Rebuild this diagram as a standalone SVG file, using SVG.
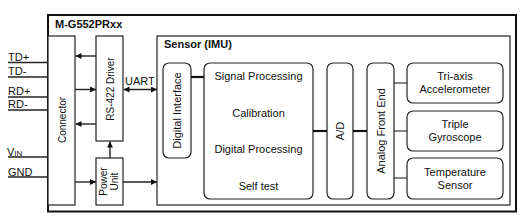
<svg xmlns="http://www.w3.org/2000/svg" width="522" height="223" viewBox="0 0 522 223">
<style>
text{font-family:"Liberation Sans",Arial,sans-serif;fill:#111;}
.t{font-size:11px;}
.s{font-size:10px;}
.b{font-size:11px;font-weight:bold;}
.box{fill:#fff;stroke:#222;stroke-width:1.2;}
.rbox{fill:#fff;stroke:#222;stroke-width:1.2;}
.ln{stroke:#222;stroke-width:1.4;fill:none;}
.thick{stroke:#111;stroke-width:2.2;fill:none;}
.thin{stroke:#222;stroke-width:1.1;fill:none;}
</style>
<defs>
<marker id="ah" viewBox="0 0 6 6" refX="6" refY="3" markerWidth="6" markerHeight="6" markerUnits="userSpaceOnUse" orient="auto-start-reverse">
<path d="M0,0 L6,3 L0,6 z" fill="#111"/>
</marker>
</defs>
<rect width="522" height="223" fill="#fff"/>
<g id="outer">
<rect x="48" y="15" width="468" height="196.5" fill="none" stroke="#111" stroke-width="2"/>
<text class="b" x="55" y="28">M-G552PRxx</text>
</g>
<g id="connector">
<rect class="box" x="48" y="36" width="27" height="169"/>
<text class="s" transform="translate(62,120) rotate(-90)" x="0" y="3.5" text-anchor="middle">Connector</text>
</g>
<g id="rs422">
<rect class="box" x="96" y="36" width="27" height="105"/>
<text class="s" transform="translate(109.5,89) rotate(-90)" x="0" y="4" text-anchor="middle">RS-422 Driver</text>
</g>
<g id="power">
<rect class="box" x="96" y="158" width="27" height="47"/>
<text class="s" transform="translate(109.5,181.5) rotate(-90)" text-anchor="middle"><tspan x="0" y="-2.5">Power</tspan><tspan x="0" y="8.5">Unit</tspan></text>
</g>
<g id="sensor">
<rect class="box" x="157" y="36" width="353" height="169"/>
<text class="b" x="164" y="48">Sensor (IMU)</text>
</g>
<g id="digital-interface">
<rect class="rbox" x="163" y="63" width="28" height="95" rx="6"/>
<text class="t" transform="translate(177,110.5) rotate(-90)" x="0" y="4" text-anchor="middle">Digital Interface</text>
</g>
<g id="signal-processing">
<rect class="rbox" x="204" y="63" width="109" height="136" rx="6"/>
<text class="t" x="258.5" y="80" text-anchor="middle">Signal Processing</text>
<text class="t" x="258.5" y="117" text-anchor="middle">Calibration</text>
<text class="t" x="258.5" y="153" text-anchor="middle">Digital Processing</text>
<text class="t" x="258.5" y="190" text-anchor="middle">Self test</text>
</g>
<g id="ad">
<rect class="rbox" x="327" y="63" width="26" height="136" rx="6"/>
<text class="t" transform="translate(340,131) rotate(-90)" x="0" y="4" text-anchor="middle">A/D</text>
</g>
<g id="afe">
<rect class="rbox" x="367" y="63" width="27" height="136" rx="6"/>
<text class="t" transform="translate(380.5,131) rotate(-90)" x="0" y="4" text-anchor="middle">Analog Front End</text>
</g>
<g id="accel">
<rect class="rbox" x="407" y="63" width="96" height="40" rx="6"/>
<text class="t" x="455" y="80" text-anchor="middle">Tri-axis</text>
<text class="t" x="455" y="93" text-anchor="middle">Accelerometer</text>
</g>
<g id="gyro">
<rect class="rbox" x="407" y="111" width="96" height="40" rx="6"/>
<text class="t" x="455" y="128" text-anchor="middle">Triple</text>
<text class="t" x="455" y="141" text-anchor="middle">Gyroscope</text>
</g>
<g id="temp">
<rect class="rbox" x="407" y="158" width="96" height="41" rx="6"/>
<text class="t" x="455" y="176" text-anchor="middle">Temperature</text>
<text class="t" x="455" y="189" text-anchor="middle">Sensor</text>
</g>
<g id="pins">
<text class="t" x="8" y="61">TD+</text>
<text class="t" x="8" y="75">TD-</text>
<text class="t" x="8" y="95">RD+</text>
<text class="t" x="8" y="108">RD-</text>
<text class="t" x="7" y="156">V<tspan font-size="8px">IN</tspan></text>
<text class="t" x="8" y="176">GND</text>
</g>
<g id="connectors">
<line class="ln" x1="8" y1="62.5" x2="48" y2="62.5"/>
<line class="ln" x1="8" y1="77" x2="48" y2="77"/>
<line class="ln" x1="8" y1="97" x2="48" y2="97"/>
<line class="ln" x1="8" y1="110" x2="48" y2="110"/>
<line class="ln" x1="8" y1="157" x2="48" y2="157"/>
<line class="ln" x1="8" y1="177" x2="48" y2="177"/>
<line class="ln" x1="96" y1="56" x2="75.5" y2="56" marker-end="url(#ah)"/>
<line class="ln" x1="75" y1="89.5" x2="96" y2="89.5" marker-end="url(#ah)"/>
<line class="ln" x1="96" y1="124" x2="75.5" y2="124" marker-end="url(#ah)"/>
<line class="ln" x1="123.5" y1="89.5" x2="157" y2="89.5" marker-start="url(#ah)" marker-end="url(#ah)"/>
<text class="t" x="125" y="85">UART</text>
<line class="ln" x1="75" y1="182" x2="96" y2="182" marker-end="url(#ah)"/>
<line class="ln" x1="123" y1="182" x2="157" y2="182" marker-end="url(#ah)"/>
<line class="ln" x1="110" y1="158" x2="110" y2="141.5" marker-end="url(#ah)"/>
<line class="thick" x1="191" y1="77" x2="204" y2="77"/>
<line class="thick" x1="313" y1="131" x2="327" y2="131"/>
<line class="thick" x1="353" y1="131" x2="367" y2="131"/>
<line class="thin" x1="394" y1="83" x2="407" y2="83"/>
<line class="thin" x1="394" y1="131" x2="407" y2="131"/>
<line class="thin" x1="394" y1="178" x2="407" y2="178"/>
</g>
</svg>
